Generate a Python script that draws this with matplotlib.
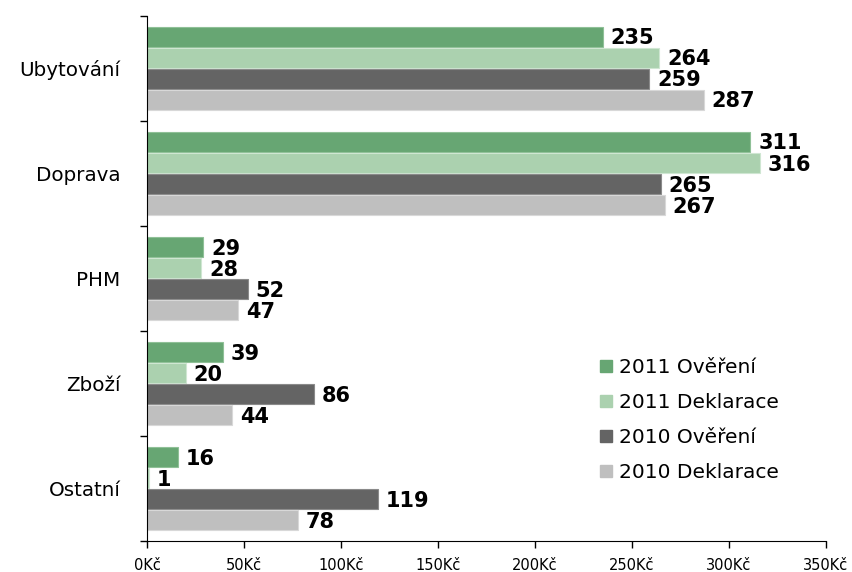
import numpy as np
import matplotlib
matplotlib.use("Agg")
import matplotlib.pyplot as plt
from matplotlib.ticker import FuncFormatter
from matplotlib.lines import Line2D

categories = ["Ubytování", "Doprava", "PHM", "Zboží", "Ostatní"]
series_names = ["2011 Ověření", "2011 Deklarace", "2010 Ověření", "2010 Deklarace"]
ov_2011 = [235, 311, 29, 39, 16]
dek_2011 = [264, 316, 28, 20, 1]
ov_2010 = [259, 265, 52, 86, 119]
dek_2010 = [287, 267, 47, 44, 78]
x_ticks = [0, 50, 100, 150, 200, 250, 300, 350]

colors = ["#67a673", "#abd1af", "#646464", "#bfbfbf"]
edges = ["#8fc097", "#cfe6d2", "#8a8a8a", "#d8d8d8"]


def main():
    plt.rcParams["font.family"] = ["DejaVu Sans"]
    fig = plt.figure(figsize=(8.52, 5.72), dpi=100)
    ax = fig.add_axes([0.1725, 0.0542, 0.797, 0.918])

    series = [ov_2011, dek_2011, ov_2010, dek_2010]
    n_cat = len(categories)
    y = np.arange(n_cat)
    pitch = 0.2
    height = 0.185

    for k, vals in enumerate(series):
        pos = y - 1.5 * pitch + k * pitch
        ax.barh(pos, vals, height=height, color=colors[k], edgecolor=edges[k],
                linewidth=0.8, zorder=2)
        for p, v in zip(pos, vals):
            ax.text(v + 4, p + 0.015, str(v), va="center", ha="left",
                    fontsize=15, fontweight="bold", color="black")

    ax.set_xlim(0, 350)
    ax.set_ylim(n_cat - 0.5, -0.5)
    ax.set_xticks(x_ticks)
    ax.xaxis.set_major_formatter(FuncFormatter(lambda v, _: f"{int(v)}Kč"))
    ax.tick_params(axis="x", labelsize=10.5, length=5, width=1, pad=7)

    ax.set_yticks(y)
    ax.set_yticklabels(categories, fontsize=14.3)
    ax.tick_params(axis="y", which="major", length=0, pad=19)
    ax.set_yticks(np.arange(-0.5, n_cat, 1.0), minor=True)
    ax.tick_params(axis="y", which="minor", length=5, width=1)

    for s in ["top", "right"]:
        ax.spines[s].set_visible(False)

    handles = [Line2D([0], [0], marker="s", linestyle="none", markersize=8,
                      markerfacecolor=c, markeredgecolor=c) for c in colors]
    fig.legend(handles, series_names, loc="upper left",
               bbox_to_anchor=(578 / 852, 1 - 340 / 572),
               frameon=False, fontsize=14.5, labelspacing=0.8, handletextpad=0.15,
               handlelength=1.0)

    fig.savefig("out.png", dpi=100)
    plt.close(fig)


if __name__ == "__main__":
    main()
